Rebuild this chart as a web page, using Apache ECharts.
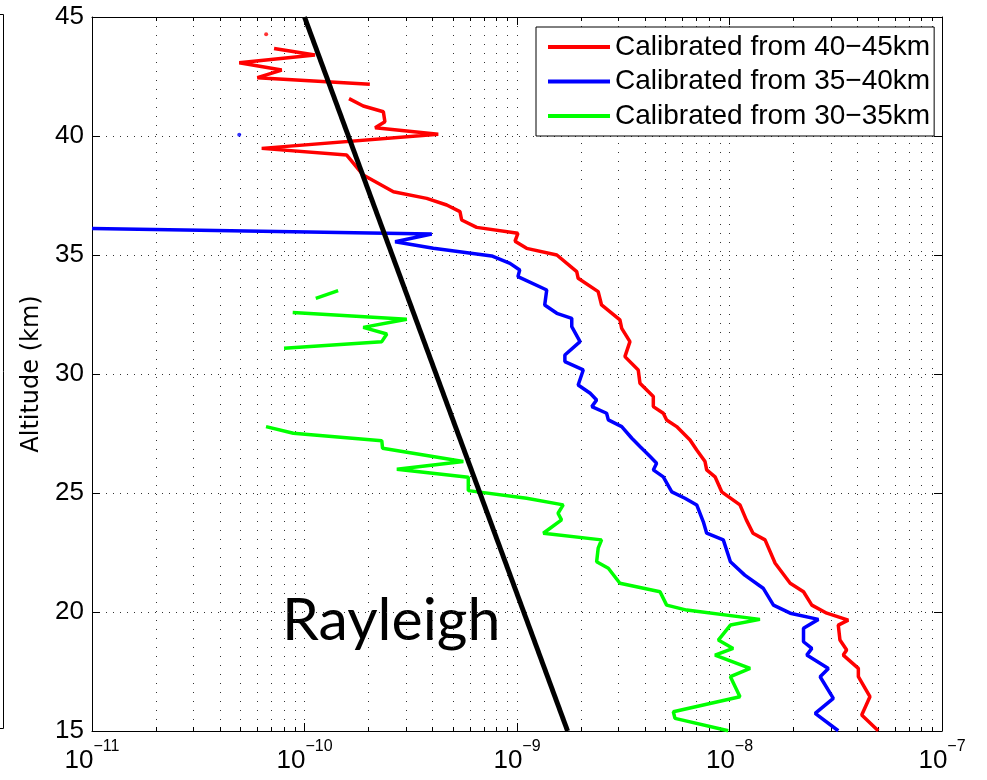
<!DOCTYPE html>
<html>
<head>
<meta charset="utf-8">
<script src="https://cdn.jsdelivr.net/npm/echarts@6/dist/echarts.min.js"></script>
<style>
  html, body { margin: 0; padding: 0; background: #fff; }
  #chart { width: 987px; height: 780px; }
</style>
</head>
<body>
<div id="chart"></div>
<script>
// legend names
const seriesNames = ['Calibrated from 40\u221245km', 'Calibrated from 35\u221240km', 'Calibrated from 30\u221235km'];

// x axis decades (major ticks, labels) and exponents
const xDecades = [1e-11, 1e-10, 1e-9, 1e-8, 1e-7];
const xExponents = ['\u221211', '\u221210', '\u22129', '\u22128', '\u22127'];

// [signal, altitude km], one array per drawn piece
const redTop = [[7.19e-11, 43.68], [1.12e-10, 43.40], [4.93e-11, 43.08], [7.81e-11, 42.77], [6.0e-11, 42.45], [2.03e-10, 42.17]];
const redMain = [[1.62e-10, 41.57], [1.89e-10, 41.26], [2.35e-10, 41.02], [2.39e-10, 40.60], [2.15e-10, 40.35], [4.26e-10, 40.07],
  [6.29e-11, 39.48], [1.58e-10, 39.20], [1.89e-10, 38.36], [2.62e-10, 37.66], [3.76e-10, 37.38], [4.67e-10, 37.10],
  [5.39e-10, 36.82], [5.49e-10, 36.47], [6.46e-10, 36.16], [1.01e-9, 35.91], [9.79e-10, 35.58], [1.11e-9, 35.28],
  [1.54e-9, 35.0], [1.91e-9, 34.30], [1.94e-9, 34.02], [2.41e-9, 33.46], [2.50e-9, 32.90], [3.05e-9, 32.27],
  [3.11e-9, 31.92], [3.40e-9, 31.36], [3.22e-9, 30.73], [3.72e-9, 30.17], [3.79e-9, 29.61], [4.38e-9, 29.05],
  [4.38e-9, 28.63], [4.88e-9, 28.35], [5.06e-9, 28.07], [5.64e-9, 27.79], [6.52e-9, 27.23], [7.01e-9, 26.81],
  [7.67e-9, 26.32], [7.81e-9, 25.97], [8.55e-9, 25.68], [9.19e-9, 25.05], [1.12e-8, 24.50], [1.20e-8, 23.87],
  [1.29e-8, 23.31], [1.47e-8, 23.03], [1.64e-8, 22.05], [1.93e-8, 21.21], [2.23e-8, 20.85], [2.44e-8, 20.29],
  [2.87e-8, 19.95], [3.62e-8, 19.66], [3.25e-8, 19.45], [3.31e-8, 18.82], [3.56e-8, 18.40], [3.43e-8, 18.19],
  [4.04e-8, 17.63], [4.04e-8, 17.28], [4.58e-8, 16.44], [4.19e-8, 15.67], [5.01e-8, 15.01]];
const redDots = [[6.6e-11, 44.27]];

const blueMain = [[1e-11, 36.11], [3.97e-10, 35.88], [2.67e-10, 35.56], [4.04e-10, 35.28], [7.60e-10, 34.96], [9.27e-10, 34.65],
  [1.03e-9, 34.37], [1.01e-9, 34.09], [1.38e-9, 33.53], [1.35e-9, 32.90], [1.54e-9, 32.55], [1.81e-9, 32.34],
  [1.81e-9, 31.99], [1.98e-9, 31.36], [1.68e-9, 30.80], [1.68e-9, 30.52], [2.05e-9, 30.17], [1.94e-9, 29.54],
  [2.21e-9, 29.19], [2.37e-9, 28.91], [2.25e-9, 28.63], [2.64e-9, 28.35], [2.69e-9, 28.07], [3.11e-9, 27.79],
  [3.47e-9, 27.30], [3.79e-9, 26.95], [4.23e-9, 26.53], [4.54e-9, 26.25], [4.38e-9, 25.97], [4.88e-9, 25.68],
  [5.35e-9, 25.05], [6.17e-9, 24.78], [7.01e-9, 24.50], [7.53e-9, 23.79], [7.81e-9, 23.31], [9.35e-9, 23.03],
  [1.01e-8, 22.11], [1.18e-8, 21.55], [1.44e-8, 21.0], [1.61e-8, 20.29], [1.93e-8, 19.95], [2.62e-8, 19.69],
  [2.23e-8, 19.32], [2.23e-8, 18.75], [2.44e-8, 18.47], [2.31e-8, 18.19], [2.92e-8, 17.63], [2.67e-8, 17.28],
  [3.08e-8, 16.37], [2.53e-8, 15.74], [3.25e-8, 15.01]];
const blueDots = [[4.93e-11, 40.05]];

const greenA = [[1.13e-10, 33.18], [1.44e-10, 33.50]];
const greenB = [[8.80e-11, 32.58], [3.03e-10, 32.30], [1.89e-10, 31.96], [2.44e-10, 31.68], [2.31e-10, 31.36], [8.01e-11, 31.08]];
const greenC = [[6.59e-11, 27.79], [8.86e-11, 27.51], [2.31e-10, 27.20], [2.33e-10, 26.88], [5.59e-10, 26.32], [2.72e-10, 26.0],
  [5.90e-10, 25.66], [5.90e-10, 25.10], [1.11e-9, 24.78], [1.65e-9, 24.50], [1.56e-9, 24.15], [1.62e-9, 23.87],
  [1.33e-9, 23.31], [2.50e-9, 23.03], [2.41e-9, 22.68], [2.37e-9, 22.11], [2.69e-9, 21.84], [3.05e-9, 21.21],
  [4.71e-9, 20.85], [5.06e-9, 20.29], [6.29e-9, 20.08], [1.39e-8, 19.69], [1.01e-8, 19.45], [8.86e-9, 18.82],
  [1.04e-8, 18.47], [8.55e-9, 18.19], [1.25e-8, 17.63], [1.01e-8, 17.28], [1.12e-8, 16.44], [5.44e-9, 15.81],
  [5.54e-9, 15.53], [9.87e-9, 15.01]];

const rayleigh = [[1e-10, 45], [1.73e-9, 15]];

// minor ticks 2..9 in each decade
const xMinor = [];
for (let d = 0; d < xDecades.length - 1; d++) {
  for (let m = 1; m <= 9; m++) xMinor.push(+(m * xDecades[d]).toPrecision(3));
}
xMinor.push(1e-7);

const FONT = 'Liberation Sans';
const chart = echarts.init(document.getElementById('chart'));

function seg(name, color, data) {
  return {
    name: name, type: 'line', data: data, showSymbol: false, symbol: 'none',
    lineStyle: { color: color, width: 3.5 }, itemStyle: { color: color },
    animation: false, silent: true
  };
}
function dots(color, data) {
  return {
    type: 'scatter', data: data, symbolSize: 4, itemStyle: { color: color },
    animation: false, silent: true
  };
}

const logAxis = (pos, extra) => Object.assign({
  type: 'log', logBase: 10, min: 1e-11, max: 1e-7, position: pos,
  axisLine: { show: false }, axisLabel: { show: false },
  axisTick: { show: false }, splitLine: { show: false }
}, extra);

const option = {
  backgroundColor: '#fff',
  animation: false,
  grid: { left: 92, right: 45, top: 17, bottom: 49, containLabel: false },
  legend: {
    orient: 'vertical', left: 536, top: 27,
    padding: [6, 4, 6, 12], itemGap: 6.5,
    itemWidth: 62, itemHeight: 4, icon: 'rect',
    borderColor: '#000', borderWidth: 1, borderRadius: 0, backgroundColor: '#fff',
    selectedMode: false,
    textStyle: { fontFamily: FONT, fontSize: 28, color: '#000' },
    data: seriesNames
  },
  xAxis: [
    logAxis('bottom', {
      axisLine: { show: true, onZero: false, lineStyle: { color: '#000', width: 1 } },
      axisTick: { show: true, inside: true, length: 8, lineStyle: { color: '#000' } },
      axisLabel: {
        show: true, margin: 8, customValues: xDecades,
        formatter: function (v) {
          const i = xDecades.findIndex(d => Math.abs(Math.log10(d) - Math.log10(v)) < 1e-6);
          return '{b|10}{s|' + (i >= 0 ? xExponents[i] : '') + '}';
        },
        rich: {
          b: { fontFamily: FONT, fontSize: 26, color: '#000', lineHeight: 35, verticalAlign: 'bottom' },
          s: { fontFamily: FONT, fontSize: 16, color: '#000', lineHeight: 16, verticalAlign: 'top' }
        }
      }
    }),
    logAxis('bottom', {
      axisTick: { show: true, inside: true, length: 4, customValues: xMinor, lineStyle: { color: '#000' } },
      splitLine: { show: true, lineStyle: { color: '#333', width: 1, type: [1, 8] } }
    }),
    logAxis('top', {
      axisLine: { show: true, onZero: false, lineStyle: { color: '#000', width: 1 } },
      axisTick: { show: true, inside: true, length: 8, lineStyle: { color: '#000' } }
    }),
    logAxis('top', {
      axisTick: { show: true, inside: true, length: 4, customValues: xMinor, lineStyle: { color: '#000' } }
    })
  ],
  yAxis: [
    {
      type: 'value', min: 15, max: 45, interval: 5, position: 'left',
      name: 'Altitude (km)', nameLocation: 'middle', nameGap: 48, nameRotate: 90,
      nameTextStyle: { fontFamily: 'DejaVu Sans', fontSize: 24, color: '#000' },
      axisLine: { show: true, onZero: false, lineStyle: { color: '#000', width: 1 } },
      axisTick: { show: true, inside: true, length: 8, lineStyle: { color: '#000' } },
      axisLabel: { fontFamily: FONT, fontSize: 26, color: '#000', margin: 8 },
      splitLine: { show: true, lineStyle: { color: '#333', width: 1, type: [1, 6] } }
    },
    {
      type: 'value', min: 15, max: 45, interval: 5, position: 'right',
      axisLine: { show: true, onZero: false, lineStyle: { color: '#000', width: 1 } },
      axisTick: { show: true, inside: true, length: 8, lineStyle: { color: '#000' } },
      axisLabel: { show: false }, splitLine: { show: false }
    }
  ],
  series: [
    seg(seriesNames[0], '#ff0000', redTop),
    seg(seriesNames[0], '#ff0000', redMain),
    dots('#ff0000', redDots),
    seg(seriesNames[1], '#0000ff', blueMain),
    dots('#0000ff', blueDots),
    seg(seriesNames[2], '#00ff00', greenA),
    seg(seriesNames[2], '#00ff00', greenB),
    seg(seriesNames[2], '#00ff00', greenC),
    {
      name: 'Rayleigh', type: 'line', data: rayleigh, showSymbol: false, symbol: 'none',
      lineStyle: { color: '#000', width: 5 }, animation: false, silent: true
    }
  ],
  graphic: [
    {
      type: 'text', left: 282, top: 591,
      style: { text: 'Rayleigh', font: '59px Lato', fill: '#000' }
    },
    {
      type: 'polyline', silent: true,
      shape: { points: [[0, 14.5], [3.5, 14.5], [3.5, 728.5], [0, 728.5]] },
      style: { stroke: '#000', lineWidth: 1, fill: null }
    }
  ]
};

chart.setOption(option);
</script>
</body>
</html>
